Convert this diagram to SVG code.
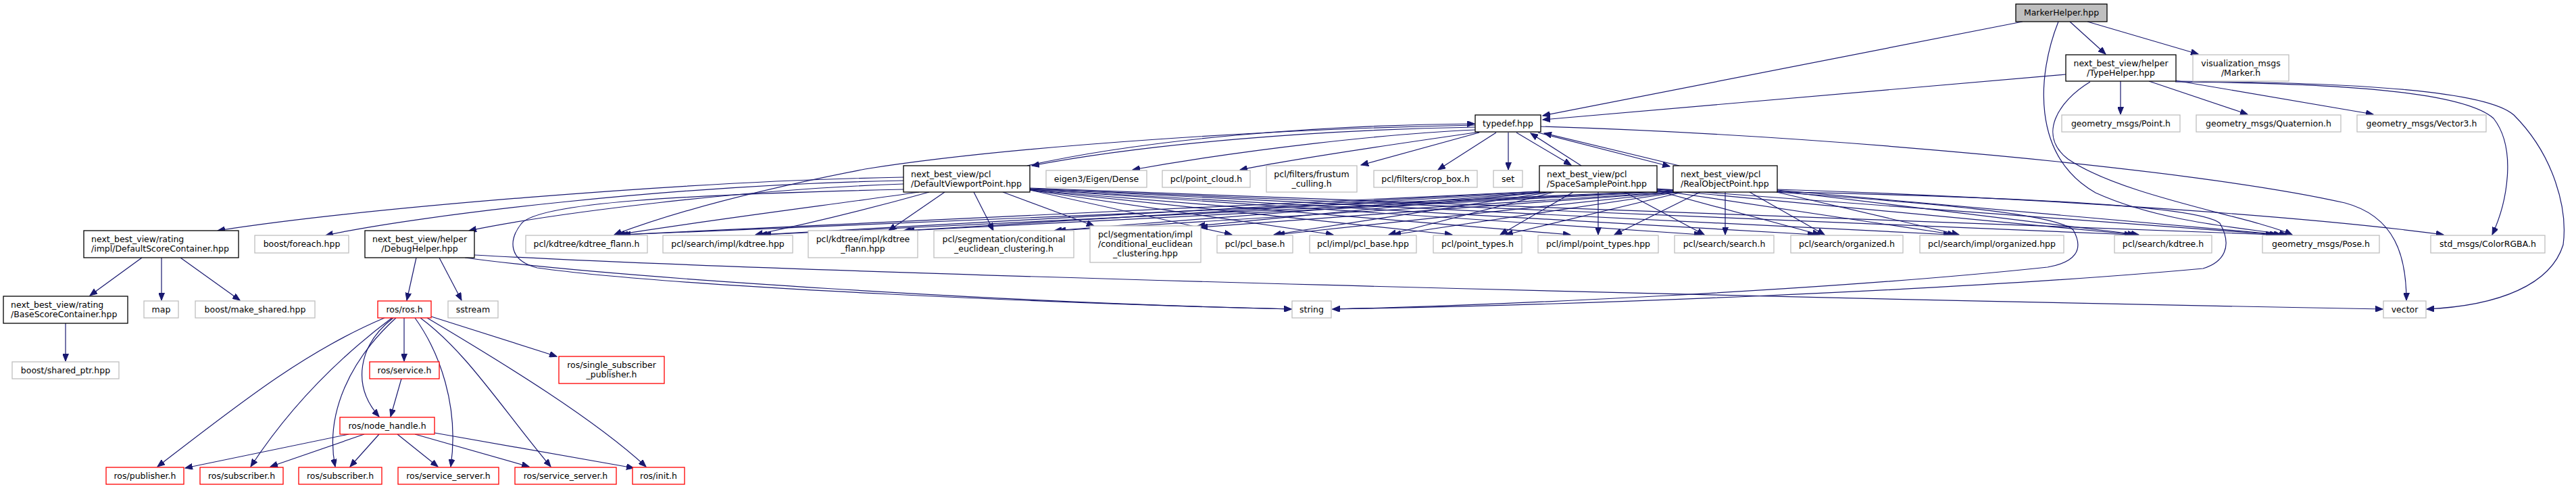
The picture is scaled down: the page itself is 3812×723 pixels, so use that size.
<svg xmlns="http://www.w3.org/2000/svg" width="3812" height="723" viewBox="0 0 3812 723">
<style>
rect{fill:#fff;stroke-width:1.3}
.g rect{stroke:#bfbfbf}
.k rect{stroke:#000}
.r rect{stroke:#f00}
.m rect{fill:#bfbfbf;stroke:#000}
text{font-family:"DejaVu Sans",sans-serif;font-size:12.5px;fill:#000}
.c text{text-anchor:middle}
#edges path{fill:none;stroke:#191970;stroke-width:1.2;marker-end:url(#a)}
</style>
<defs>
<marker id="a" markerWidth="12" markerHeight="9" refX="11" refY="4.5" orient="auto" markerUnits="userSpaceOnUse"><path d="M0,0 L11,4.5 L0,9 z" fill="#191970" stroke="#191970" stroke-width="1"/></marker>
</defs>
<rect x="0" y="0" width="3812" height="723" style="fill:#fff;stroke:none"/>
<g id="edges">
<path d="M2993,32 L2283,171"/>
<path d="M3063,32 L3116,80"/>
<path d="M3089,32 L3253,80"/>
<path d="M3046,32 C3015,110 3005,230 3101,285 C3200,330 3330,338 3384,347"/>
<path d="M3057,110 L2283,177"/>
<path d="M3138,120 L3138,169"/>
<path d="M3180,120 L3326,169"/>
<path d="M3219,119 L3512,169"/>
<path d="M3093,121 C3045,150 3015,200 3060,235 C3140,290 3330,320 3392,347"/>
<path d="M3219,121 C3500,123 3650,140 3690,175 C3725,220 3710,300 3688,347"/>
<path d="M3219,120 C3500,122 3680,135 3720,170 C3780,230 3800,310 3793,362 C3775,420 3700,452 3591,457"/>
<path d="M2183,188 C1950,192 1700,212 1527,245"/>
<path d="M1520,245 C1700,205 1950,185 2182,183"/>
<path d="M2183,192 C2050,198 1850,220 1676,251"/>
<path d="M2190,195 C2050,215 1900,238 1835,251"/>
<path d="M2189,196 L2014,244"/>
<path d="M2214,196 L2128,251"/>
<path d="M2232,196 L2232,251"/>
<path d="M2244,196 L2325,244"/>
<path d="M2340,245 L2265,197"/>
<path d="M2276,196 L2471,246"/>
<path d="M2485,245 L2285,197"/>
<path d="M2280,187 C2700,200 3250,250 3470,300 C3545,320 3561,380 3561,444"/>
<path d="M2183,185 C1900,190 1500,215 1280,250 C1100,285 980,320 909,347"/>
<path d="M1337,262 C1000,268 520,310 322,341"/>
<path d="M1337,267 C1000,273 620,318 482,348"/>
<path d="M1337,272 C1100,280 820,315 694,341"/>
<path d="M1337,280 C1000,288 800,300 772,330 C752,355 752,385 795,396 C1000,425 1600,450 1911,457"/>
<path d="M1360,284 C1250,300 1050,325 914,347"/>
<path d="M1375,284 C1300,305 1200,330 1118,347"/>
<path d="M1398,284 L1315,341"/>
<path d="M1441,284 L1470,341"/>
<path d="M1484,284 L1619,334"/>
<path d="M1524,281 L1823,347"/>
<path d="M1524,281 L1973,347"/>
<path d="M1524,281 L2149,347"/>
<path d="M1524,281 L2324,347"/>
<path d="M1524,280 L2518,347"/>
<path d="M1524,280 L2686,347"/>
<path d="M1524,279 L2887,347"/>
<path d="M1524,279 L3155,347"/>
<path d="M1524,278 L3364,347"/>
<path d="M2278,283 L918,347"/>
<path d="M2278,283 L1124,347"/>
<path d="M2280,284 L1337,341"/>
<path d="M2285,284 L1560,341"/>
<path d="M2290,284 L1772,334"/>
<path d="M2295,284 L1885,347"/>
<path d="M2300,284 L2055,347"/>
<path d="M2328,284 L2220,347"/>
<path d="M2365,284 L2365,347"/>
<path d="M2404,284 L2522,347"/>
<path d="M2452,282 L2693,347"/>
<path d="M2452,281 L2893,347"/>
<path d="M2452,280 L3160,347"/>
<path d="M2452,279 L3370,347"/>
<path d="M2452,280 C2900,288 3250,300 3285,330 C3305,365 3290,388 3260,397 C2900,430 2300,452 1972,457"/>
<path d="M2476,282 L922,347"/>
<path d="M2476,282 L1130,347"/>
<path d="M2476,283 L1342,341"/>
<path d="M2478,284 L1566,341"/>
<path d="M2480,284 L1776,336"/>
<path d="M2482,284 L1890,347"/>
<path d="M2485,284 L2062,347"/>
<path d="M2490,284 L2228,347"/>
<path d="M2516,284 L2389,347"/>
<path d="M2553,284 L2553,347"/>
<path d="M2589,284 L2700,347"/>
<path d="M2629,284 L2899,347"/>
<path d="M2630,282 L3165,347"/>
<path d="M2630,281 L3376,347"/>
<path d="M2630,280 C3000,292 3400,318 3616,347"/>
<path d="M2630,284 C2850,300 3040,315 3068,340 C3085,370 3070,388 3030,395 C2700,430 2200,452 1972,457"/>
<path d="M210,381 L133,437"/>
<path d="M239,381 L239,444"/>
<path d="M267,381 L355,444"/>
<path d="M97,478 L97,534"/>
<path d="M616,381 L602,444"/>
<path d="M650,381 L683,444"/>
<path d="M688,381 C900,410 1500,448 1911,457"/>
<path d="M702,377 C1200,405 2600,440 3526,457"/>
<path d="M598,470 L598,534"/>
<path d="M638,468 L824,527"/>
<path d="M582,470 C530,510 520,570 561,616"/>
<path d="M569,470 C450,520 350,600 233,690"/>
<path d="M580,470 C500,530 430,600 371,690"/>
<path d="M586,470 C520,530 480,610 496,690"/>
<path d="M614,470 C650,520 680,600 667,690"/>
<path d="M622,470 C690,520 740,600 815,690"/>
<path d="M632,470 C750,540 880,620 956,690"/>
<path d="M594,560 L578,616"/>
<path d="M516,642 L274,692"/>
<path d="M539,642 L400,690"/>
<path d="M561,642 L518,690"/>
<path d="M588,642 L648,690"/>
<path d="M614,642 L783,690"/>
<path d="M643,640 L938,692"/>
</g>
<g id="n_markerhelper" class="m c"><rect x="2983" y="6" width="135" height="26"/><text x="3050.5" y="23">MarkerHelper.hpp</text></g>
<g id="n_typehelper" class="k c"><rect x="3057" y="81" width="163" height="39"/><text x="3138.5" y="97.5">next_best_view/helper</text><text x="3138.5" y="111.5">/TypeHelper.hpp</text></g>
<g id="n_marker" class="g c"><rect x="3245" y="81" width="142" height="39"/><text x="3316" y="97.5">visualization_msgs</text><text x="3316" y="111.5">/Marker.h</text></g>
<g id="n_typedef" class="k c"><rect x="2183" y="170" width="97" height="25"/><text x="2231.5" y="187">typedef.hpp</text></g>
<g id="n_point" class="g c"><rect x="3051" y="170" width="175" height="25"/><text x="3138.5" y="187">geometry_msgs/Point.h</text></g>
<g id="n_quaternion" class="g c"><rect x="3250" y="170" width="214" height="25"/><text x="3357" y="187">geometry_msgs/Quaternion.h</text></g>
<g id="n_vector3" class="g c"><rect x="3488" y="170" width="191" height="25"/><text x="3583.5" y="187">geometry_msgs/Vector3.h</text></g>
<g id="n_dvp" class="k"><rect x="1337" y="245" width="187" height="39"/><text x="1348" y="261.5">next_best_view/pcl</text><text x="1348" y="275.5">/DefaultViewportPoint.hpp</text></g>
<g id="n_eigen" class="g c"><rect x="1548" y="252" width="149" height="25"/><text x="1622.5" y="269">eigen3/Eigen/Dense</text></g>
<g id="n_pointcloud" class="g c"><rect x="1720" y="252" width="130" height="25"/><text x="1785" y="269">pcl/point_cloud.h</text></g>
<g id="n_frustum" class="g c"><rect x="1874" y="245" width="134" height="39"/><text x="1941" y="261.5">pcl/filters/frustum</text><text x="1941" y="275.5">_culling.h</text></g>
<g id="n_cropbox" class="g c"><rect x="2033" y="252" width="153" height="25"/><text x="2109.5" y="269">pcl/filters/crop_box.h</text></g>
<g id="n_set" class="g c"><rect x="2210" y="252" width="43" height="25"/><text x="2231.5" y="269">set</text></g>
<g id="n_ssp" class="k"><rect x="2278" y="245" width="174" height="39"/><text x="2289" y="261.5">next_best_view/pcl</text><text x="2289" y="275.5">/SpaceSamplePoint.hpp</text></g>
<g id="n_rop" class="k"><rect x="2476" y="245" width="154" height="39"/><text x="2487" y="261.5">next_best_view/pcl</text><text x="2487" y="275.5">/RealObjectPoint.hpp</text></g>
<g id="n_dsc" class="k"><rect x="124" y="341" width="229" height="40"/><text x="135" y="357.5">next_best_view/rating</text><text x="135" y="371.5">/impl/DefaultScoreContainer.hpp</text></g>
<g id="n_foreach" class="g c"><rect x="377" y="348" width="139" height="26"/><text x="446.5" y="365">boost/foreach.hpp</text></g>
<g id="n_debughelper" class="k c"><rect x="540" y="341" width="162" height="40"/><text x="621" y="357.5">next_best_view/helper</text><text x="621" y="371.5">/DebugHelper.hpp</text></g>
<g id="n_kdflann" class="g c"><rect x="778" y="348" width="180" height="26"/><text x="868" y="365">pcl/kdtree/kdtree_flann.h</text></g>
<g id="n_searchkdimpl" class="g c"><rect x="981" y="348" width="192" height="26"/><text x="1077" y="365">pcl/search/impl/kdtree.hpp</text></g>
<g id="n_kdflannimpl" class="g c"><rect x="1196" y="341" width="162" height="40"/><text x="1277" y="357.5">pcl/kdtree/impl/kdtree</text><text x="1277" y="371.5">_flann.hpp</text></g>
<g id="n_condeuc" class="g c"><rect x="1382" y="341" width="207" height="40"/><text x="1485.5" y="357.5">pcl/segmentation/conditional</text><text x="1485.5" y="371.5">_euclidean_clustering.h</text></g>
<g id="n_condeucimpl" class="g c"><rect x="1613" y="334" width="164" height="54"/><text x="1695" y="350.5">pcl/segmentation/impl</text><text x="1695" y="364.5">/conditional_euclidean</text><text x="1695" y="378.5">_clustering.hpp</text></g>
<g id="n_pclbase" class="g c"><rect x="1801" y="348" width="112" height="26"/><text x="1857" y="365">pcl/pcl_base.h</text></g>
<g id="n_pclbaseimpl" class="g c"><rect x="1938" y="348" width="158" height="26"/><text x="2017" y="365">pcl/impl/pcl_base.hpp</text></g>
<g id="n_pointtypes" class="g c"><rect x="2121" y="348" width="131" height="26"/><text x="2186.5" y="365">pcl/point_types.h</text></g>
<g id="n_pointtypesimpl" class="g c"><rect x="2276" y="348" width="178" height="26"/><text x="2365" y="365">pcl/impl/point_types.hpp</text></g>
<g id="n_search" class="g c"><rect x="2478" y="348" width="147" height="26"/><text x="2551.5" y="365">pcl/search/search.h</text></g>
<g id="n_organized" class="g c"><rect x="2650" y="348" width="166" height="26"/><text x="2733" y="365">pcl/search/organized.h</text></g>
<g id="n_organizedimpl" class="g c"><rect x="2841" y="348" width="213" height="26"/><text x="2947.5" y="365">pcl/search/impl/organized.hpp</text></g>
<g id="n_searchkd" class="g c"><rect x="3129" y="348" width="144" height="26"/><text x="3201" y="365">pcl/search/kdtree.h</text></g>
<g id="n_pose" class="g c"><rect x="3348" y="348" width="173" height="26"/><text x="3434.5" y="365">geometry_msgs/Pose.h</text></g>
<g id="n_color" class="g c"><rect x="3597" y="348" width="169" height="26"/><text x="3681.5" y="365">std_msgs/ColorRGBA.h</text></g>
<g id="n_bsc" class="k"><rect x="5" y="438" width="184" height="40"/><text x="16" y="454.5">next_best_view/rating</text><text x="16" y="468.5">/BaseScoreContainer.hpp</text></g>
<g id="n_map" class="g c"><rect x="213" y="445" width="51" height="25"/><text x="238.5" y="462">map</text></g>
<g id="n_makeshared" class="g c"><rect x="289" y="445" width="177" height="25"/><text x="377.5" y="462">boost/make_shared.hpp</text></g>
<g id="n_ros" class="r c"><rect x="559" y="445" width="79" height="25"/><text x="598.5" y="462">ros/ros.h</text></g>
<g id="n_sstream" class="g c"><rect x="663" y="445" width="74" height="25"/><text x="700" y="462">sstream</text></g>
<g id="n_string" class="g c"><rect x="1912" y="445" width="58" height="25"/><text x="1941" y="462">string</text></g>
<g id="n_vector" class="g c"><rect x="3527" y="445" width="63" height="25"/><text x="3558.5" y="462">vector</text></g>
<g id="n_sharedptr" class="g c"><rect x="18" y="535" width="158" height="25"/><text x="97" y="552">boost/shared_ptr.hpp</text></g>
<g id="n_service" class="r c"><rect x="547" y="535" width="103" height="25"/><text x="598.5" y="552">ros/service.h</text></g>
<g id="n_singlesub" class="r c"><rect x="827" y="527" width="156" height="40"/><text x="905" y="543.5">ros/single_subscriber</text><text x="905" y="557.5">_publisher.h</text></g>
<g id="n_nodehandle" class="r c"><rect x="503" y="617" width="140" height="25"/><text x="573" y="634">ros/node_handle.h</text></g>
<g id="n_publisher" class="r c"><rect x="157" y="691" width="115" height="25"/><text x="214.5" y="708">ros/publisher.h</text></g>
<g id="n_subscriber1" class="r c"><rect x="296" y="691" width="123" height="25"/><text x="357.5" y="708">ros/subscriber.h</text></g>
<g id="n_subscriber2" class="r c"><rect x="442" y="691" width="123" height="25"/><text x="503.5" y="708">ros/subscriber.h</text></g>
<g id="n_serviceserver1" class="r c"><rect x="589" y="691" width="149" height="25"/><text x="663.5" y="708">ros/service_server.h</text></g>
<g id="n_serviceserver2" class="r c"><rect x="762" y="691" width="150" height="25"/><text x="837" y="708">ros/service_server.h</text></g>
<g id="n_init" class="r c"><rect x="936" y="691" width="77" height="25"/><text x="974.5" y="708">ros/init.h</text></g>
</svg>
